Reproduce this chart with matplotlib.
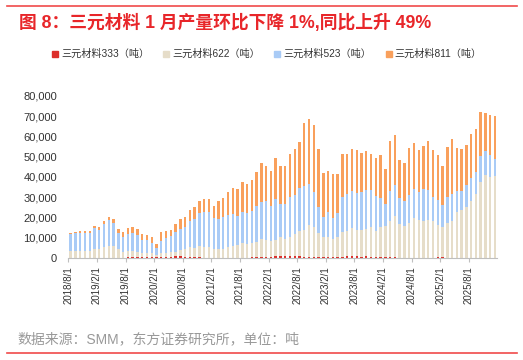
import numpy as np
import matplotlib
matplotlib.use("Agg")
import matplotlib.pyplot as plt
from matplotlib.lines import Line2D

plt.rcParams['font.family'] = ['Liberation Sans', 'Noto Sans CJK SC', 'DejaVu Sans']

# monthly production, tons (2018/8 .. 2026/1)
months = []
for y in range(2018, 2027):
    for m in range(1, 13):
        if (y, m) >= (2018, 8) and (y, m) <= (2026, 1):
            months.append(f"{y}/{m}/1")

ncm333 = [0, 0, 0, 0, 0, 0, 0, 0, 0, 0, 0, 0,
          500, 500, 500, 400, 400, 600, 500, 600, 600, 600, 800, 800,
          600, 600, 500, 300, 0, 0, 0, 0, 0, 0, 0, 0,
          0, 0, 300, 500, 500, 500, 500, 800, 800, 800, 800, 800,
          800, 700, 600, 600, 500, 500, 500, 500, 500, 600, 800, 800,
          1000, 600, 800, 500, 500, 500, 500, 500, 400, 0, 0, 0,
          0, 0, 0, 0, 0, 500, 500, 0, 0, 0, 0, 0,
          0, 0, 0, 0, 0, 0]
ncm622 = [3400, 3400, 3500, 3500, 3500, 4200, 4300, 5400, 5800, 5700, 4300, 3100,
          2900, 2900, 2700, 2000, 1900, 1700, 1000, 1700, 2000, 2200, 2200, 3200,
          3800, 4700, 4600, 5600, 5300, 5300, 4400, 4300, 4400, 5300, 5900, 6400,
          7600, 6700, 6900, 7600, 9000, 8600, 8100, 8300, 9400, 8700, 9700, 11200,
          12700, 13100, 15900, 14900, 11700, 10000, 9700, 8900, 9700, 12400, 12400, 14200,
          12800, 13200, 13400, 14600, 12700, 14600, 15500, 17900, 20300, 16800, 15800, 17300,
          19900, 18800, 18000, 18800, 18000, 15800, 14600, 17400, 18000, 22900, 23700, 25000,
          28300, 31600, 37700, 41000, 39700, 40500]
ncm523 = [8600, 8900, 8800, 8800, 8600, 10600, 9300, 11400, 12900, 11700, 8200, 7100,
          8200, 8700, 7900, 6700, 6600, 5100, 3300, 5900, 7400, 8100, 10000, 10500,
          10700, 12800, 14000, 16500, 17400, 17400, 15500, 15100, 15700, 15900, 15800, 14400,
          15300, 15500, 16000, 17700, 18300, 19200, 16800, 19900, 16600, 17000, 19800, 19300,
          21200, 21800, 20000, 16900, 12800, 9500, 12500, 10200, 12000, 17300, 18400, 17800,
          18200, 18500, 19100, 18200, 17400, 14400, 10700, 14600, 15100, 12800, 12300, 13800,
          14200, 13600, 16200, 14900, 12300, 12300, 11100, 12600, 13600, 10200, 9100, 10900,
          11000, 10900, 12700, 11800, 11200, 8200]
ncm811 = [500, 700, 900, 900, 1100, 1200, 1500, 1600, 1700, 2000, 1700, 2800,
          3000, 3200, 3100, 2500, 2600, 2800, 1900, 4600, 3300, 2900, 3600, 4800,
          5300, 5400, 5800, 5900, 6300, 6400, 5500, 8600, 9400, 11200, 12700, 13100,
          14800, 14300, 15300, 16700, 18900, 17300, 17600, 20400, 18800, 19100, 21200, 22500,
          22600, 30900, 32100, 33000, 28500, 22100, 20300, 21900, 19100, 20900, 19600, 21000,
          21000, 19700, 19500, 18200, 18500, 21400, 17400, 24600, 24900, 18800, 18500, 23100,
          22400, 20900, 20900, 23900, 22900, 22300, 19200, 24700, 26900, 21100, 20900, 20000,
          21700, 21000, 21700, 18800, 19500, 21200]

names = ["三元材料333（吨）", "三元材料622（吨）", "三元材料523（吨）", "三元材料811（吨）"]
colors = ["#DC2F2B", "#E6DDC9", "#A9CBF6", "#F9A05C"]

fig = plt.figure(figsize=(5.23, 3.6), dpi=100)
ax = fig.add_axes([0.1306, 0.2833, 0.8204, 0.4508])

x = np.arange(len(months))
bottom = np.zeros(len(months))
for vals, c in zip([ncm333, ncm622, ncm523, ncm811], colors):
    ax.bar(x, vals, width=0.5, bottom=bottom, color=c, linewidth=0)
    bottom += np.array(vals)

ax.set_xlim(-0.5, len(months) - 0.5)
ax.set_ylim(0, 80000)
ax.set_yticks(range(0, 80001, 10000))
ax.set_yticklabels([f"{v:,}" for v in range(0, 80001, 10000)], fontsize=8, color="#333333")
tick_pos = np.arange(0, len(months), 6) - 0.5
ax.set_xticks(tick_pos)
ax.set_xticklabels([months[i] for i in range(0, len(months), 6)], rotation=90,
                   fontsize=7, color="#333333")
ax.tick_params(axis='y', length=0, pad=8)
ax.tick_params(axis='x', length=3, color="#BFBFBF", pad=3)
for s in ["top", "right", "left"]:
    ax.spines[s].set_visible(False)
ax.spines["bottom"].set_color("#BFBFBF")

# legend
handles = [Line2D([], [], marker="s", linestyle="", color=c, markersize=4) for c in colors]
fig.legend(handles, names, loc="center", bbox_to_anchor=(0.51, 0.85), ncol=4,
           frameon=False, fontsize=7.3, handlelength=0.6, handletextpad=0.3,
           columnspacing=1.4, labelcolor="#333333")

# title, source and red rules
fig.text(0.036, 0.937, "图 8：三元材料 1 月产量环比下降 1%,同比上升 49%", fontsize=12.8,
         color="#E8262A", weight="bold", va="center", ha="left")
fig.text(0.034, 0.058, "数据来源：SMM，东方证券研究所，单位：吨", fontsize=10,
         color="#999999", va="center", ha="left")
fig.add_artist(Line2D([0.013, 0.988], [0.984, 0.984], color="#F04A4A", linewidth=1.2))
fig.add_artist(Line2D([0.013, 0.988], [0.019, 0.019], color="#F04A4A", linewidth=1.2))

fig.savefig("out.png", dpi=100)
